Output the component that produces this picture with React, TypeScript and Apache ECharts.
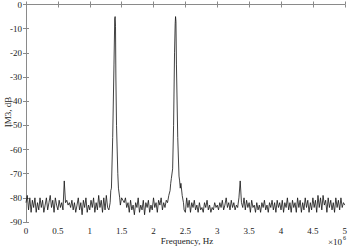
import React, { useEffect, useRef } from "react";
import * as echarts from "echarts";

// Noise floor, sampled every 0.02 MHz (x in units of 1e6 Hz)
const noiseA_start = 0.0;
const noiseA = [
  -82, -79, -85, -80, -86, -81, -84, -80, -86, -82,
  -85, -80, -84, -81, -86, -83, -80, -85, -82, -79,
  -84, -81, -86, -80, -83, -85, -81, -84, -82, -85,
  -73, -82, -81, -83, -82, -84, -81, -85, -82, -86,
  -83, -80, -85, -82, -87, -81, -84, -80, -86, -83,
  -85, -81, -84, -80, -86, -82, -85, -79, -84, -81,
  -86, -80, -85, -79, -84, -85,
];
const noiseB_start = 1.5;
const noiseB = [
  -80, -81, -82, -80, -84, -82, -86, -81, -85, -83,
  -87, -82, -84, -80, -86, -83, -85, -81, -87, -82,
  -84, -81, -86, -83, -85, -80, -84, -82, -86, -81,
  -83, -80, -85, -82, -84, -81,
];
const noiseC_start = 2.5;
const noiseC = [
  -86, -80, -84, -81, -86, -82, -84, -81, -85, -83,
  -86, -82, -85, -84, -86, -82, -84, -81, -85, -83,
  -86, -84, -85, -82, -84, -83, -85, -82, -84, -81,
  -85, -83, -80, -84, -82, -85, -81, -84, -82, -85,
  -83, -84, -80, -73, -82, -84, -80, -85, -81, -84,
  -82, -86, -81, -84, -83, -86, -82, -85, -83, -86,
  -82, -84, -81, -85, -83, -86, -82, -84, -81, -85,
  -82, -86, -81, -84, -82, -85, -81, -86, -82, -84,
  -80, -85, -82, -86, -81, -84, -82, -86, -80, -84,
  -81, -86, -82, -85, -80, -84, -81, -86, -82, -85,
  -80, -84, -81, -86, -79, -84, -80, -85, -79, -83,
  -81, -86, -80, -84, -81, -85, -82, -86, -80, -84,
  -81, -85, -80, -84, -82, -83,
];
const STEP = 0.02;

// Tone peaks (frequency in MHz, level in dB)
const peak1Freq = [1.32, 1.33, 1.34, 1.36, 1.38, 1.392, 1.398, 1.404, 1.41, 1.42, 1.44, 1.45, 1.46, 1.47, 1.48];
const peak1Val = [-82, -77, -76, -55, -25, -6, -5, -9, -30, -50, -70, -76, -78, -80, -83];
const peak2Freq = [2.22, 2.24, 2.26, 2.27, 2.28, 2.30, 2.315, 2.33, 2.34, 2.346, 2.352, 2.36, 2.38, 2.40, 2.41, 2.42, 2.43, 2.45, 2.47, 2.48];
const peak2Val = [-82, -79, -77, -74, -72, -68, -50, -20, -8, -5, -7, -25, -55, -71, -73, -76, -74, -79, -82, -85];

const xTicks = [0, 0.5, 1, 1.5, 2, 2.5, 3, 3.5, 4, 4.5, 5];
const yTicks = [0, -10, -20, -30, -40, -50, -60, -70, -80, -90];

function buildData(): [number, number][] {
  const pts: [number, number][] = [];
  noiseA.forEach((v, i) => pts.push([+(noiseA_start + i * STEP).toFixed(3), v]));
  peak1Freq.forEach((f, i) => pts.push([f, peak1Val[i]]));
  noiseB.forEach((v, i) => pts.push([+(noiseB_start + i * STEP).toFixed(3), v]));
  peak2Freq.forEach((f, i) => pts.push([f, peak2Val[i]]));
  noiseC.forEach((v, i) => pts.push([+(noiseC_start + i * STEP).toFixed(3), v]));
  pts.sort((a, b) => a[0] - b[0]);
  return pts;
}

const FONT = "Liberation Serif";
const AXIS_COLOR = "#8a8a8a";
const TEXT_COLOR = "#222";

export default function App() {
  const ref = useRef<HTMLDivElement>(null);
  useEffect(() => {
    if (!ref.current) return;
    const chart = echarts.init(ref.current, undefined, { renderer: "svg" });
    const common = {
      type: "value" as const,
      axisLine: { show: true, lineStyle: { color: AXIS_COLOR, width: 1 } },
      axisTick: { show: true, inside: true, length: 3, lineStyle: { color: AXIS_COLOR } },
      splitLine: { show: false },
    };
    chart.setOption({
      animation: false,
      backgroundColor: "#fff",
      grid: { left: 26, top: 3, right: 3, bottom: 26, containLabel: false },
      xAxis: [
        {
          ...common,
          position: "bottom",
          min: xTicks[0],
          max: xTicks[xTicks.length - 1],
          interval: 0.5,
          axisLabel: { show: true, color: TEXT_COLOR, fontFamily: FONT, fontSize: 9, margin: 4 },
        },
        {
          ...common,
          position: "top",
          min: xTicks[0],
          max: xTicks[xTicks.length - 1],
          interval: 0.5,
          axisLabel: { show: false },
        },
      ],
      yAxis: [
        {
          ...common,
          position: "left",
          min: yTicks[yTicks.length - 1],
          max: yTicks[0],
          interval: 10,
          axisLabel: { show: true, color: TEXT_COLOR, fontFamily: FONT, fontSize: 9, margin: 4 },
        },
        {
          ...common,
          position: "right",
          min: yTicks[yTicks.length - 1],
          max: yTicks[0],
          interval: 10,
          axisLabel: { show: false },
        },
      ],
      series: [
        {
          type: "line",
          xAxisIndex: 0,
          yAxisIndex: 0,
          data: buildData(),
          showSymbol: false,
          symbol: "none",
          lineStyle: { color: "#111", width: 0.8 },
        },
      ],
      graphic: [
        {
          type: "text",
          x: 8,
          y: 112,
          rotation: Math.PI / 2,
          style: {
            text: "IM3, dB",
            fill: TEXT_COLOR,
            font: `9px "${FONT}"`,
            align: "center",
            verticalAlign: "middle",
          },
        },
        {
          type: "text",
          x: 187,
          y: 241,
          style: {
            text: "Frequency, Hz",
            fill: TEXT_COLOR,
            font: `9px "${FONT}"`,
            align: "center",
            verticalAlign: "middle",
          },
        },
        {
          type: "text",
          x: 342,
          y: 242,
          style: {
            text: "×10",
            fill: TEXT_COLOR,
            font: `9px "${FONT}"`,
            align: "right",
            verticalAlign: "middle",
          },
        },
        {
          type: "text",
          x: 343,
          y: 237.5,
          style: {
            text: "6",
            fill: TEXT_COLOR,
            font: `6px "${FONT}"`,
            align: "left",
            verticalAlign: "middle",
          },
        },
      ],
    });
    return () => chart.dispose();
  }, []);
  return <div ref={ref} style={{ position: "fixed", left: 0, top: 0, width: 350, height: 248 }} />;
}
